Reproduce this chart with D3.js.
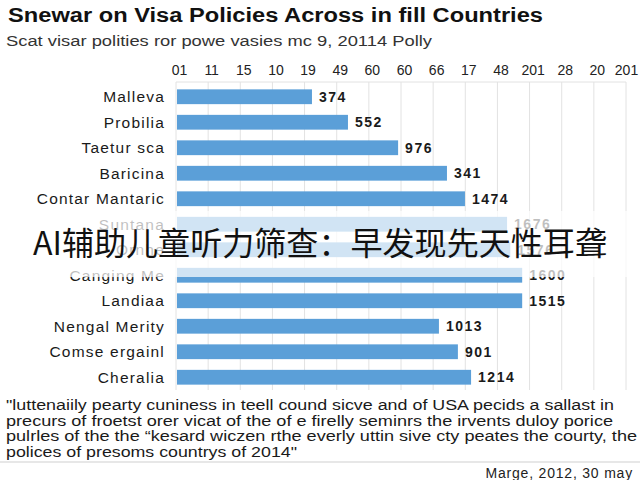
<!DOCTYPE html>
<html>
<head>
<meta charset="utf-8">
<script src="https://cdn.jsdelivr.net/npm/d3@7/dist/d3.min.js"></script>
<style>
  body { margin: 0; background: #fff; }
  svg { display: block; font-family: "Liberation Sans", Arial, sans-serif; }
</style>
</head>
<body>
<div id="chart"></div>
<script>
// categories, top to bottom
let countries = ['Malleva', 'Probilia', 'Taetur sca', 'Baricina', 'Contar Mantaric', 'Suntana',
  'Ornhe', 'Canging Me', 'Landiaa', 'Nengal Merity', 'Comse ergainl', 'Cheralia']
// bar length, measured in axis tick steps
let barLength = [4.23, 5.35, 6.91, 8.43, 8.99, 10.3, 10.4, 10.77, 10.77, 8.18, 8.77, 9.18]
// number printed at the end of each bar
let barLabels = ['374', '552', '976', '341', '1474', '1676', '1576', '1600', '1515', '1013', '901', '1214']
// axis tick labels as printed
let tickLabels = ['01', '11', '15', '10', '19', '49', '60', '60', '66', '17', '48', '201', '28', '20', '201']

let noteLines = [
  '"luttenaiily pearty cuniness in teell cound sicve and of USA pecids a sallast in',
  'precurs of froetst orer vicat of the of e firelly seminrs the irvents duloy porice',
  'pulrles of the the \u201ckesard wiczen rthe everly  uttin sive cty peates the courty, the',
  'polices of presoms countrys of 2014"'
]
let noteWidths = [608, 607, 631, 291]

let width = 640, height = 480
let margin = { left: 176, right: 14, top: 82, bottom: 90 }

let svg = d3.select('#chart').append('svg')
            .attr('width', width)
            .attr('height', height)

svg.append('text')
    .attr('x', 8).attr('y', 22)
    .attr('font-size', 20).attr('font-weight', 'bold').attr('fill', '#111')
    .attr('textLength', 535).attr('lengthAdjust', 'spacingAndGlyphs')
    .text('Snewar on Visa Policies Across in fill Countries')

svg.append('text')
    .attr('x', 6).attr('y', 46)
    .attr('font-size', 14).attr('fill', '#333')
    .attr('textLength', 426).attr('lengthAdjust', 'spacingAndGlyphs')
    .text('Scat visar polities ror powe vasies mc 9, 20114 Polly')

let x = d3.scaleLinear()
          .domain([0, tickLabels.length - 1])
          .range([margin.left, width - margin.right])

let y = d3.scaleBand()
          .domain(countries)
          .range([margin.top + 2, 390])
          .paddingInner(0.42)
          .paddingOuter(0.21)

let plotBottom = 390

// gridlines
svg.append('g')
    .selectAll('line')
    .data(d3.range(tickLabels.length))
    .join('line')
    .attr('x1', d => x(d)).attr('x2', d => x(d))
    .attr('y1', margin.top).attr('y2', plotBottom)
    .attr('stroke', '#e2e2e2').attr('stroke-width', 1)

svg.append('line')
    .attr('x1', margin.left).attr('x2', x(tickLabels.length - 1))
    .attr('y1', margin.top).attr('y2', margin.top)
    .attr('stroke', '#e2e2e2')

// top axis labels
let axisTop = d3.axisTop(x)
                .tickValues(d3.range(tickLabels.length))
                .tickFormat((d, i) => tickLabels[i])
                .tickSize(0)
                .tickPadding(0)
let ax = svg.append('g')
            .attr('transform', 'translate(0,' + 75 + ')')
            .call(axisTop)
ax.select('.domain').remove()
ax.selectAll('text')
    .attr('font-size', 14).attr('fill', '#222')
    .attr('font-family', '"Liberation Sans", Arial, sans-serif')
    .attr('dx', (d, i) => i === tickLabels.length - 1 ? 0 : 3)

// bars
svg.append('g')
    .selectAll('rect')
    .data(countries)
    .join('rect')
    .attr('x', x(0) + 1)
    .attr('y', d => y(d))
    .attr('width', (d, i) => x(barLength[i]) - x(0) - 1)
    .attr('height', y.bandwidth())
    .attr('fill', '#5b9fd8')

// country labels
svg.append('g')
    .selectAll('text')
    .data(countries)
    .join('text')
    .attr('x', 165)
    .attr('y', d => y(d) + y.bandwidth() / 2)
    .attr('dy', '0.36em')
    .attr('text-anchor', 'end')
    .attr('font-size', 15.5).attr('fill', '#1a1a1a')
    .attr('letter-spacing', 1.2)
    .text(d => d)

// value labels
svg.append('g')
    .selectAll('text')
    .data(countries)
    .join('text')
    .attr('x', (d, i) => x(barLength[i]) + 7)
    .attr('y', d => y(d) + y.bandwidth() / 2)
    .attr('dy', '0.36em')
    .attr('font-size', 14).attr('font-weight', 'bold').attr('fill', '#1a1a1a')
    .attr('letter-spacing', 1.5)
    .text((d, i) => barLabels[i])

// footnote
svg.append('g')
    .selectAll('text')
    .data(noteLines)
    .join('text')
    .attr('x', 6)
    .attr('y', (d, i) => 410 + i * 15.6)
    .attr('font-size', 14).attr('fill', '#1a1a1a')
    .attr('textLength', (d, i) => noteWidths[i])
    .attr('lengthAdjust', 'spacingAndGlyphs')
    .text(d => d)

svg.append('line')
    .attr('x1', 0).attr('x2', width)
    .attr('y1', 462).attr('y2', 462)
    .attr('stroke', '#cfcfcf')

svg.append('text')
    .attr('x', 633).attr('y', 478)
    .attr('text-anchor', 'end')
    .attr('font-size', 14).attr('fill', '#222')
    .attr('letter-spacing', 0.8)
    .text('Marge, 2012, 30 may')

// overlay band with caption
svg.append('rect')
    .attr('x', 0).attr('y', 211)
    .attr('width', width).attr('height', 66)
    .attr('fill', '#fff').attr('fill-opacity', 0.72)

svg.append('text')
    .attr('x', 320).attr('y', 255)
    .attr('text-anchor', 'middle')
    .attr('font-family', '"Noto Sans CJK SC", sans-serif')
    .attr('font-size', 32).attr('fill', '#111')
    .attr('textLength', 574).attr('lengthAdjust', 'spacingAndGlyphs')
    .text('AI辅助儿童听力筛查：早发现先天性耳聋')
</script>
</body>
</html>
